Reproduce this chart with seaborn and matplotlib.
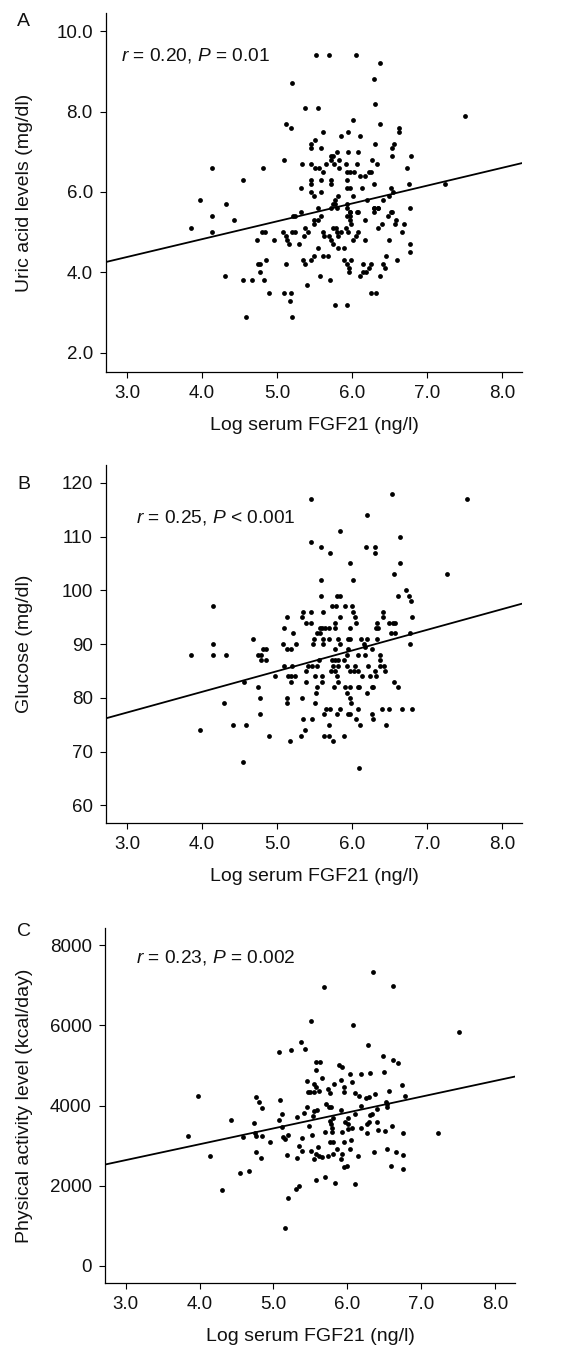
import numpy as np
import pandas as pd
import matplotlib
matplotlib.use("Agg")
import matplotlib.pyplot as plt
from matplotlib import ticker
import seaborn as sns

# ---- panel A: uric acid vs log FGF21 ----
a_x = [3.98, 4.14, 4.32, 4.55, 4.81, 5.09, 5.12, 5.19, 5.20, 5.37, 5.55, 5.52, 5.69, 6.05, 6.37,
       6.29, 6.31, 6.37, 6.01, 6.31, 6.63, 6.63, 7.51, 6.79, 6.74, 6.76, 6.78, 7.24, 5.51, 5.45,
       5.45, 5.61, 5.86, 5.95, 6.11, 5.59, 5.34, 5.45, 5.51, 5.56, 5.61, 5.66, 5.72, 5.75, 5.80,
       5.72, 5.76, 5.83, 5.83, 5.95, 6.08, 5.92, 6.07, 5.93, 5.98, 6.03, 6.11, 6.17, 6.23, 6.27,
       6.33, 6.26, 6.53, 6.54, 6.56, 5.45, 5.45, 5.59, 5.72, 5.72, 5.93, 5.93, 5.97, 6.14, 6.29,
       6.52, 5.32, 5.46, 5.50, 5.59, 5.81, 6.01, 6.20, 6.42, 6.49, 6.55, 5.78, 5.75, 5.72, 5.94,
       5.94, 5.55, 6.30, 6.35, 6.52, 5.32, 5.22, 5.97, 6.07, 6.30, 4.14, 4.43,
       3.85, 4.14, 4.31, 4.55, 4.67, 4.59, 4.74, 4.80, 4.84, 4.96, 4.75, 4.78, 4.77, 4.86, 4.83,
       4.90, 5.08, 5.12, 5.13, 5.16, 5.20, 5.24, 5.24, 5.30, 5.36, 5.37, 5.42, 5.12, 5.35, 5.37,
       5.45, 5.40, 5.09, 5.19, 5.17, 5.20, 5.50, 5.55, 5.57, 5.61, 5.63, 5.61, 5.68, 5.49, 5.50,
       5.55, 5.59, 5.70, 5.72, 5.75, 5.71, 5.75, 5.79, 5.80, 5.82, 5.80, 5.77, 5.86, 5.81, 5.89,
       5.78, 5.94, 5.89, 5.94, 5.96, 5.96, 5.99, 5.92, 5.95, 5.93, 5.98, 5.98, 5.99, 5.97, 6.01,
       6.06, 6.08, 6.08, 6.18, 6.18, 6.11, 6.15, 6.19, 6.15, 6.23, 6.26, 6.26, 6.32, 6.37, 6.35,
       6.40, 6.29, 6.35, 6.42, 6.44, 6.46, 6.50, 6.48, 6.53, 6.58, 6.59, 6.60, 6.67, 6.70, 6.77,
       6.77]
a_y = [5.8, 6.6, 5.7, 6.3, 6.6, 6.8, 7.7, 7.6, 8.7, 8.1, 8.1, 9.4, 9.4, 9.4, 9.2,
       8.8, 8.2, 7.7, 7.8, 7.2, 7.6, 7.5, 7.9, 6.9, 6.6, 6.2, 5.6, 6.2, 7.3, 7.2,
       7.1, 7.5, 7.4, 7.5, 7.4, 7.1, 6.7, 6.7, 6.6, 6.6, 6.5, 6.7, 6.9, 6.9, 7.0,
       6.8, 6.7, 6.8, 6.6, 7.0, 7.0, 6.7, 6.7, 6.5, 6.5, 6.5, 6.4, 6.4, 6.5, 6.8,
       6.7, 6.5, 6.9, 7.1, 7.2, 6.3, 6.2, 6.3, 6.3, 6.2, 6.3, 6.1, 6.1, 6.1, 6.2,
       6.1, 6.1, 6.0, 5.9, 6.0, 5.9, 5.9, 5.8, 5.8, 5.9, 6.0, 5.8, 5.7, 5.6, 5.7,
       5.6, 5.6, 5.6, 5.6, 5.5, 5.5, 5.4, 5.5, 5.5, 5.5, 5.4, 5.3,
       5.1, 5.0, 3.9, 3.8, 3.8, 2.9, 4.8, 5.0, 5.0, 4.8, 4.2, 4.2, 4.0, 4.3, 3.8,
       3.5, 5.0, 4.9, 4.8, 4.7, 5.0, 5.0, 5.4, 4.7, 4.9, 5.1, 5.0, 4.2, 4.3, 4.2,
       4.3, 3.7, 3.5, 3.5, 3.3, 2.9, 4.4, 4.6, 3.9, 5.0, 4.9, 4.4, 4.4, 5.2, 5.3,
       5.3, 5.4, 4.9, 4.8, 4.7, 3.8, 5.1, 5.1, 5.0, 4.9, 5.6, 5.7, 5.0, 4.6, 4.6,
       3.2, 3.2, 4.3, 4.2, 4.1, 4.0, 4.3, 5.1, 5.0, 5.4, 5.4, 5.3, 5.2, 5.5, 4.8,
       4.9, 5.0, 5.5, 5.3, 4.8, 3.9, 4.0, 4.0, 4.2, 4.1, 4.2, 3.5, 3.5, 3.9, 5.1,
       5.2, 5.6, 5.6, 4.2, 4.1, 4.4, 4.8, 5.4, 5.5, 5.2, 5.3, 4.3, 5.0, 5.2, 4.7,
       4.5]

# ---- panel B: glucose vs log FGF21 ----
b_x = [5.46, 6.54, 7.54, 6.20, 5.84, 5.46, 5.59, 5.71, 6.19, 6.31, 6.31, 6.64, 6.64, 5.98, 7.27,
       6.56, 5.59, 6.01, 5.59, 5.80, 5.84, 6.61, 6.72, 6.76, 6.79, 4.15, 5.74, 5.79, 5.91, 6.00,
       6.02, 6.04, 6.06, 5.45, 5.35, 5.62, 5.13, 5.33, 5.84, 6.42, 6.42, 6.80, 5.39, 5.46, 5.77,
       6.34, 6.50, 6.55, 6.58, 5.09, 5.57, 5.60, 5.64, 5.69, 5.77, 5.98, 6.32, 6.35, 5.21, 5.54,
       5.57, 6.52, 6.57, 6.78, 4.68, 5.50, 5.61, 5.69, 5.81, 5.95, 5.97, 6.12, 6.20, 6.34, 4.15,
       5.08, 5.25, 5.48, 5.61, 5.84, 6.16, 6.17, 6.78, 5.13, 5.19, 4.82, 4.86, 5.77, 5.95, 6.27,
       3.85, 4.15, 4.32, 4.75, 4.79, 5.93, 6.08, 6.18, 6.37,
       4.79, 4.85, 5.09, 5.15, 5.19, 5.24, 5.20, 5.19, 4.97, 5.39, 5.42, 5.47, 5.53, 5.56, 5.39,
       5.51, 5.53, 5.52, 5.60, 5.60, 5.73, 5.78, 5.82, 5.75, 5.82, 5.72, 5.78, 5.80, 5.82, 5.76,
       5.89, 5.94, 5.97, 6.04, 6.03, 5.91, 5.94, 5.97, 5.98, 5.99, 6.08, 6.08, 6.10, 6.14, 6.21,
       6.20, 6.24, 6.27, 6.28, 6.31, 6.32, 6.37, 6.38, 6.43, 6.44, 6.56, 6.61, 4.56, 4.75, 4.77,
       4.78, 4.30, 3.98, 4.42, 4.59, 4.90, 4.55, 5.13, 5.14, 5.33, 5.18, 5.32, 5.35, 5.38, 5.47,
       5.51, 5.63, 5.65, 5.63, 5.69, 5.71, 5.70, 5.75, 5.80, 5.84, 5.89, 5.95, 5.97, 6.09, 6.05,
       6.08, 6.11, 6.27, 6.28, 6.40, 6.49, 6.46, 6.67, 6.80]
b_y = [117, 118, 117, 114, 111, 109, 108, 107, 108, 108, 107, 110, 105, 105, 103,
       103, 102, 102, 99, 99, 99, 99, 100, 99, 98, 97, 97, 97, 97, 97,
       96, 95, 94, 96, 96, 96, 95, 95, 95, 96, 95, 95, 94, 94, 94,
       94, 94, 94, 94, 93, 93, 93, 93, 93, 93, 93, 93, 93, 92, 92,
       92, 92, 92, 92, 91, 91, 91, 91, 91, 91, 91, 91, 91, 91, 90,
       90, 90, 90, 90, 90, 90, 89.5, 90, 89, 89, 89, 89, 89, 89, 89,
       88, 88, 88, 88, 88, 88, 88, 88, 88,
       87, 87, 86, 84, 84, 84, 86, 83, 84, 85, 86, 86, 86, 87, 83,
       84, 82, 81, 84, 83, 87, 87, 87, 86, 86, 85, 85, 84, 83, 82,
       87, 86, 85, 86, 85, 82, 81, 80, 82, 79, 85, 82, 82, 84, 86,
       81, 84, 82, 82, 85, 84, 87, 86, 86, 85, 83, 82, 83, 82, 80,
       77, 79, 74, 75, 75, 73, 68, 80, 79, 80, 72, 73, 76, 74, 76,
       79, 77, 78, 73, 73, 78, 75, 72, 77, 78, 73, 77, 77, 67, 76,
       78, 75, 77, 76, 78, 78, 75, 78, 78]

# ---- panel C: physical activity vs log FGF21 ----
c_x = [6.35, 5.68, 6.62, 5.51, 6.08, 7.51, 5.37, 5.24, 5.08, 5.43, 6.28, 6.48, 6.62, 6.69, 5.58,
       5.63, 5.89, 5.93, 5.58, 5.66, 5.91, 6.04, 6.19, 6.31, 6.50, 5.45, 5.55, 5.57, 5.82, 6.07,
       6.74, 3.98, 4.77, 4.81, 4.84, 5.09, 5.47, 5.50, 5.55, 5.62, 5.74, 5.77, 5.95, 5.95, 6.11,
       6.16, 6.25, 6.29, 6.38, 6.56, 6.53, 6.78,
       3.85, 4.14, 4.31, 4.42, 4.55, 4.59, 4.67, 4.74, 4.75, 4.77, 4.84, 4.77, 4.83, 4.95, 5.07,
       5.12, 5.11, 5.13, 5.16, 5.20, 5.18, 5.20, 5.16, 5.30, 5.35, 5.32, 5.35, 5.38, 5.38, 5.32,
       5.41, 5.46, 5.48, 5.52, 5.54, 5.55, 5.59, 5.57, 5.57, 5.55, 5.51, 5.61, 5.62, 5.66, 5.70,
       5.71, 5.75, 5.78, 5.70, 5.77, 5.78, 5.79, 5.79, 5.77, 5.80, 5.74, 5.80, 5.81, 5.83, 5.86,
       5.92, 5.93, 5.93, 5.92, 5.96, 5.95, 5.99, 5.97, 6.01, 6.01, 6.01, 6.04, 6.05, 6.07, 6.11,
       6.11, 6.14, 6.18, 6.19, 6.26, 6.26, 6.30, 6.31, 6.34, 6.36, 6.40, 6.40, 6.42, 6.51, 6.54,
       6.54, 6.54, 6.60, 6.59, 6.66, 6.76, 6.76, 6.75, 7.23]
c_y = [7325, 6958, 6983, 6117, 6000, 5842, 5575, 5375, 5325, 5408, 5500, 5225, 5133, 5050, 5092,
       5075, 5000, 4950, 4892, 4683, 4625, 4792, 4783, 4808, 4825, 4608, 4542, 4458, 4525, 4592,
       4517, 4242, 4200, 4075, 3942, 4142, 4333, 4333, 4333, 4367, 4408, 4308, 4458, 4342, 4308,
       4242, 4183, 4200, 4292, 4358, 4075, 4242,
       3247, 2745, 1900, 3650, 2318, 3213, 2360, 3556, 3305, 3230, 3230, 2828, 2678, 3096, 3650,
       3800, 3456, 3222, 3163, 3264, 2770, 1698, 937, 1908, 1992, 2678, 2996, 2853, 3180, 3724,
       3824, 3967, 3498, 3264, 3749, 3874, 3891, 2142, 2786, 2661, 2870, 2954, 2745, 2703, 3330,
       4042, 3967, 3967, 2226, 3615, 3540, 3431, 3330, 3079, 3079, 2728, 2786, 3682, 2075, 2912,
       3891, 3330, 2786, 2661, 3079, 2468, 2477, 3582, 3540, 3682, 3414, 2912, 3146, 3431, 3791,
       2050, 2745, 3448, 3983, 3540, 3305, 3582, 3766, 3791, 2828, 3916, 3582, 3389, 3364, 4042,
       3958, 2912, 3498, 2477, 2845, 3305, 2761, 2410, 3305]

# fitted lines (intercept, slope)
fit_a = (3.055, 0.443)
fit_b = (65.76, 3.84)
fit_c = (1448.0, 396.0)

labels = ["A", "B", "C"]
ylabels = ["Uric acid levels (mg/dl)", "Glucose (mg/dl)", "Physical activity level (kcal/day)"]
stats_text = [r"$r$ = 0.20, $P$ = 0.01", r"$r$ = 0.25, $P$ < 0.001", r"$r$ = 0.23, $P$ = 0.002"]
xlabel = "Log serum FGF21 (ng/l)"
x_ticks = [3.0, 4.0, 5.0, 6.0, 7.0, 8.0]
y_ticks = [[2.0, 4.0, 6.0, 8.0, 10.0], [60, 70, 80, 90, 100, 110, 120], [0, 2000, 4000, 6000, 8000]]

sns.set_theme(style="ticks")
plt.rcParams['font.family'] = ['Liberation Sans', 'DejaVu Sans']
plt.rcParams['mathtext.fontset'] = 'custom'
plt.rcParams['mathtext.rm'] = 'Liberation Sans'
plt.rcParams['mathtext.it'] = 'Liberation Sans:italic'

W, H = 568, 1353
fig = plt.figure(figsize=(W / 100, H / 100), dpi=100)

# axes boxes in pixels: left, right, top, bottom
boxes = [(106, 522, 13, 372), (106, 522, 465, 823), (105, 515, 928, 1283)]
ylims = [(1.525, 10.45), (56.74, 123.3), (-433, 8433)]
xlim = (2.72, 8.27)
data = [(a_x, a_y, fit_a), (b_x, b_y, fit_b), (c_x, c_y, fit_c)]
stat_pos = [(2.92, 9.4), (3.12, 113.6), (3.135, 7692)]
letter_pos = [(23, 22), (24, 485), (24, 932)]
fmts = ['%.1f', '%d', '%d']

for i in range(3):
    l, r, t, b = boxes[i]
    ax = fig.add_axes([l / W, 1 - b / H, (r - l) / W, (b - t) / H])
    xs, ys, fit = data[i]
    df = pd.DataFrame({'x': xs, 'y': ys})
    sns.scatterplot(data=df, x='x', y='y', ax=ax, color='black', s=12, linewidth=0)
    line = pd.DataFrame({'x': list(xlim)})
    line['y'] = fit[0] + fit[1] * line['x']
    sns.lineplot(data=line, x='x', y='y', ax=ax, color='black', linewidth=1.3)

    ax.set_xlim(*xlim)
    ax.set_ylim(*ylims[i])
    ax.set_xticks(x_ticks)
    ax.set_yticks(y_ticks[i])
    ax.xaxis.set_major_formatter(ticker.FormatStrFormatter('%.1f'))
    ax.yaxis.set_major_formatter(ticker.FormatStrFormatter(fmts[i]))
    ax.tick_params(axis='both', direction='out', length=4.5, width=0.8, pad=5,
                   labelsize=13.5, color='black', labelcolor='#111111')
    sns.despine(ax=ax)
    for sp in ['left', 'bottom']:
        ax.spines[sp].set_linewidth(0.9)
        ax.spines[sp].set_color('black')

    ax.set_xlabel(xlabel, fontsize=14, color='#111111', labelpad=11)
    ax.set_ylabel(ylabels[i], fontsize=14, color='#111111')
    ax.yaxis.set_label_coords(-0.175, 0.5)

    ax.text(stat_pos[i][0], stat_pos[i][1], stats_text[i], fontsize=13.8,
            va='center', ha='left', color='#111111')
    fig.text(letter_pos[i][0] / W, 1 - letter_pos[i][1] / H, labels[i], fontsize=14,
             ha='center', va='center', color='#111111')

fig.savefig("out.png", dpi=100)
